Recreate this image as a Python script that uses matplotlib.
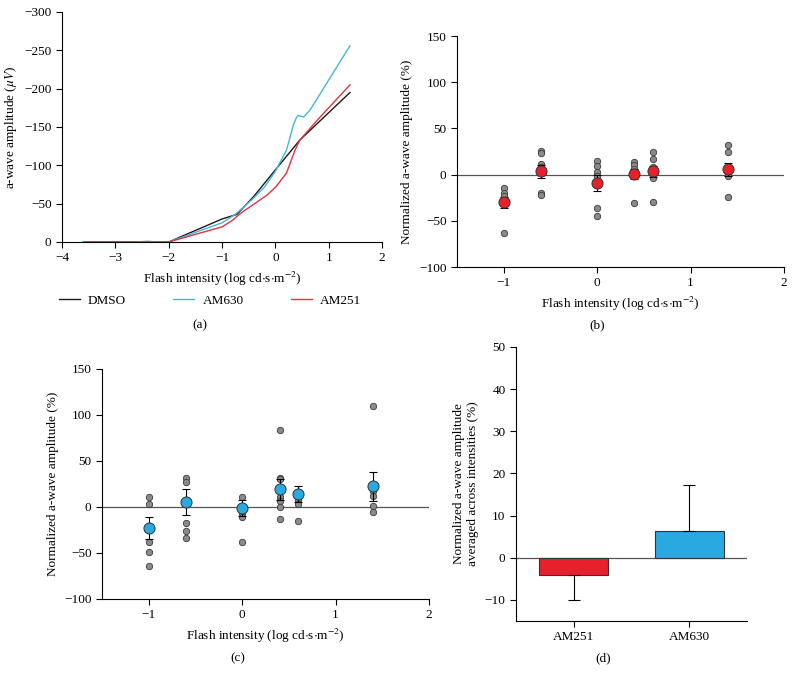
import numpy as np
import matplotlib.pyplot as plt

plt.rcParams["font.family"] = ["Liberation Serif", "DejaVu Serif"]
plt.rcParams["mathtext.fontset"] = "stix"
plt.rcParams["font.size"] = 9.5
plt.rcParams["axes.linewidth"] = 0.8

# (a) mean a-wave amplitude vs flash intensity
dmso_x = [-3.6, -2.0, -1.0, -0.72, -0.41, 0.0, 0.46, 1.4]
dmso_y = [0, 0, -30, -36, -59, -94, -133, -195]
am630_x = [-3.6, -2.6, -2.4, -2.2, -2.0, -1.0, -0.75, -0.41, -0.2, 0.0, 0.21, 0.34, 0.40, 0.43, 0.53, 0.65, 1.4]
am630_y = [0, 0, -1, 0, 0, -25, -36, -57, -72, -92, -120, -153, -163, -165, -163, -172, -256]
am251_x = [-3.6, -2.0, -0.99, -0.79, -0.66, -0.41, -0.16, 0.01, 0.21, 0.37, 0.46, 0.8, 1.4]
am251_y = [0, 0, -20, -29, -37, -49, -61, -72, -90, -120, -133, -160, -205]

# (b)/(c) normalized amplitudes per intensity
intensities = [-1.0, -0.6, 0.0, 0.4, 0.6, 1.4]

am251_pts = [
    [-15, -20, -23, -30, -63],
    [26, 23, 12, 8, -20, -22],
    [15, 9, 3, -1, -36, -45],
    [14, 10, 6, -31],
    [24, 17, 8, 5, -4, -30],
    [32, 25, 8, 3, -2, -24],
]
am251_mean = [-30, 3.6, -9.4, 0.7, 3.6, 6]
am251_sem = [6, 7, 8.5, 5, 6, 7]

am630_pts = [
    [10.5, 3, -38, -49, -64],
    [31, 27, -17, -26, -34],
    [11, -7, -11, -38],
    [84, 31, 30, 11, 7, 0, -13],
    [8, 3, -15],
    [110, 17, 12, 1.5, -5.5],
]
am630_mean = [-23, 5, -1, 19, 14, 22.5]
am630_sem = [12, 14, 9, 11, 9, 16]

# (d) averaged across intensities
groups = ["AM251", "AM630"]
group_mean = [-4.0, 6.3]
group_err = [6.0, 11.0]

RED = "#E8202A"
BLUE = "#29A9E0"
GREY = "#8a8a8a"
XLAB = "Flash intensity (log cd$\\cdot$s$\\cdot$m$^{-2}$)"


def clean(ax):
    ax.spines["top"].set_visible(False)
    ax.spines["right"].set_visible(False)
    ax.tick_params(direction="out", length=4, width=0.8, labelsize=9.5)


def scatter_panel(ax, pts, mean, sem, color):
    ax.axhline(0, color="#555555", lw=0.9, zorder=1)
    for x, vals in zip(intensities, pts):
        ax.plot([x] * len(vals), vals, "o", ms=4.6, mfc=GREY, mec="#3a3a3a",
                mew=0.6, zorder=2)
    ax.errorbar(intensities, mean, yerr=sem, fmt="none", ecolor="black",
                elinewidth=0.8, capsize=3, capthick=0.8, zorder=3)
    ax.plot(intensities, mean, "o", ms=8, mfc=color, mec="#333333", mew=0.7,
            zorder=4)
    ax.set_xlim(-1.5, 2)
    ax.set_ylim(-100, 150)
    ax.set_xticks([-1, 0, 1, 2])
    ax.set_yticks([-100, -50, 0, 50, 100, 150])
    ax.set_xlabel(XLAB)
    ax.set_ylabel("Normalized a-wave amplitude (%)")
    clean(ax)


fig = plt.figure(figsize=(7.95, 6.84), dpi=100)

# (a)
ax_a = fig.add_axes([0.078, 0.6462, 0.4025, 0.3363])
ax_a.plot(dmso_x, dmso_y, color="#1a1a1a", lw=1.0, label="DMSO")
ax_a.plot(am630_x, am630_y, color="#45B5DA", lw=1.0, label="AM630")
ax_a.plot(am251_x, am251_y, color="#E03440", lw=1.0, label="AM251")
ax_a.set_xlim(-4, 2)
ax_a.set_ylim(0, -300)
ax_a.set_xticks(range(-4, 3))
ax_a.set_yticks(range(0, -301, -50))
ax_a.set_xlabel(XLAB)
ax_a.set_ylabel("a-wave amplitude ($\\mu V$)")
clean(ax_a)
ax_a.legend(ncol=3, loc="center", bbox_to_anchor=(0.4625, -0.255), frameon=False,
            handlelength=1.6, handletextpad=0.6, columnspacing=3.6,
            fontsize=9.5)

# (b)
ax_b = fig.add_axes([0.5748, 0.6096, 0.4113, 0.3377])
scatter_panel(ax_b, am251_pts, am251_mean, am251_sem, RED)

# (c)
ax_c = fig.add_axes([0.1283, 0.1243, 0.4113, 0.3363])
scatter_panel(ax_c, am630_pts, am630_mean, am630_sem, BLUE)

# (d)
ax_d = fig.add_axes([0.649, 0.0921, 0.2906, 0.4006])
xs = np.arange(len(groups))
ax_d.axhline(0, color="#555555", lw=0.9, zorder=1)
bars = ax_d.bar(xs, group_mean, width=0.6, color=[RED, BLUE],
                edgecolor="#333333", linewidth=0.8, zorder=2)
lo = [e if m < 0 else 0 for m, e in zip(group_mean, group_err)]
hi = [e if m >= 0 else 0 for m, e in zip(group_mean, group_err)]
ax_d.errorbar(xs, group_mean, yerr=[lo, hi], fmt="none", ecolor="black",
              elinewidth=0.8, capsize=4, capthick=0.8, zorder=3)
ax_d.set_xlim(-0.5, 1.5)
ax_d.set_ylim(-15, 50)
ax_d.set_xticks(xs)
ax_d.set_xticklabels(groups)
ax_d.set_yticks(range(-10, 51, 10))
ax_d.set_ylabel("Normalized a-wave amplitude\naveraged across intensities (%)")
clean(ax_d)

for lab, x, y in [("(a)", 200, 325), ("(b)", 597, 325), ("(c)", 238, 658),
                  ("(d)", 603, 658)]:
    fig.text(x / 795, 1 - y / 684, lab, ha="center", va="center", fontsize=9.5)

fig.savefig("out.png", dpi=100)
